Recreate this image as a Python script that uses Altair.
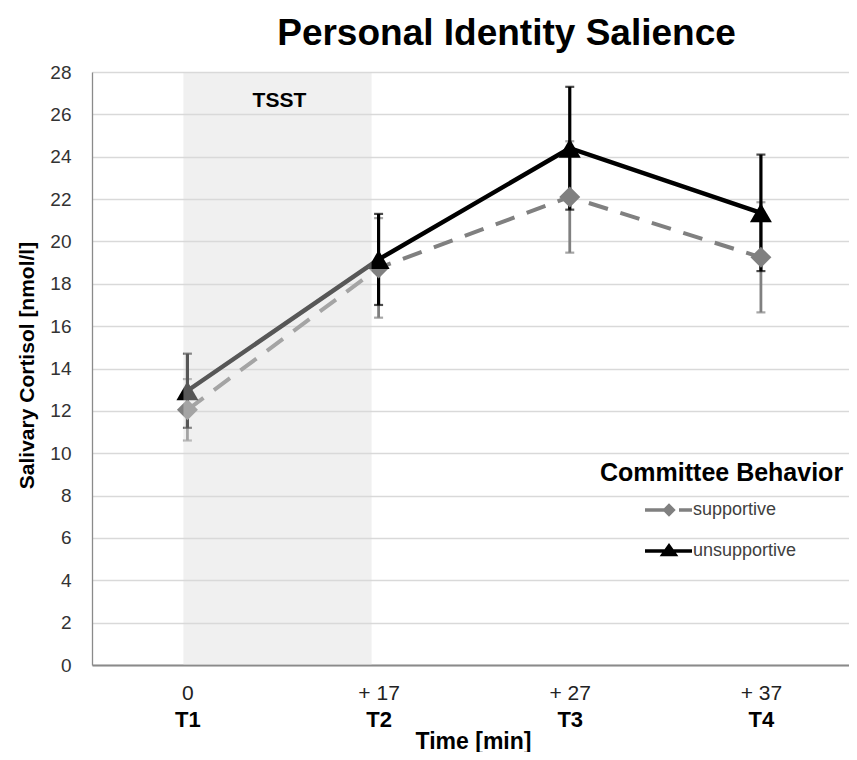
import json
import altair as alt
import pandas as pd

# ---------------- data ----------------
times = ["T1", "T2", "T3", "T4"]
minutes = ["0", "+ 17", "+ 27", "+ 37"]
series = ["supportive", "unsupportive"]
supportive_mean = [12.05, 18.75, 22.1, 19.25]
supportive_err = [1.45, 2.35, 2.63, 2.6]
unsupportive_mean = [12.95, 19.15, 24.4, 21.35]
unsupportive_err = [1.75, 2.15, 2.9, 2.75]
y_ticks = list(range(0, 29, 2))
shade_start = ["T1"]
shade_end = ["T2"]
shade_label = ["TSST"]
shade_label_y = [26.65]

df = pd.DataFrame({
    "time": times * 2,
    "series": [series[0]] * 4 + [series[1]] * 4,
    "mean": supportive_mean + unsupportive_mean,
    "err": supportive_err + unsupportive_err,
})
shade_df = pd.DataFrame({"start": shade_start, "end": shade_end, "lo": [0], "hi": [28]})
label_df = pd.DataFrame({"time": shade_start, "y": shade_label_y, "label": shade_label})

FONT = "Liberation Sans"
GRAY = "#808080"

xscale = alt.Scale(type="point", domain=times, padding=0.48, align=0.52)
yscale = alt.Scale(domain=[0, 28], nice=False, zero=True)

yaxis = alt.Axis(
    values=y_ticks, ticks=False, labelFontSize=19, labelPadding=21, labelColor="#333333",
    domainColor="#8a8a8a", domainWidth=1.3, gridColor="#d9d9d9", gridWidth=1.3,
    title="Salivary Cortisol [nmol/l]", titleFontSize=21, titleFontWeight="bold",
    titleColor="#000000", titleX=-65, titleY=293, titleAngle=270,
    titleBaseline="middle", titleAlign="center",
)

label_expr = "%s[indexof(%s, datum.value)]" % (json.dumps(minutes), json.dumps(times))
xaxis_min = alt.Axis(
    orient="bottom", labelExpr=label_expr, ticks=False, grid=False, labelAngle=0,
    labelFontSize=21, labelPadding=17, labelColor="#222222",
    domainColor="#8a8a8a", domainWidth=2, title=None,
)
xaxis_t = alt.Axis(
    orient="bottom", ticks=False, grid=False, domain=False, labelAngle=0,
    labelFontSize=22, labelFontWeight="bold", labelPadding=44, labelColor="#000000",
    title="Time [min]", titleFontSize=23, titleFontWeight="bold", titleColor="#000000",
    titleX=381, titleY=76, titleBaseline="middle", titleAlign="center",
)

base = alt.Chart(df).transform_calculate(
    lo="datum.mean - datum.err", hi="datum.mean + datum.err"
)
supp = base.transform_filter(alt.datum.series == series[0])
unsupp = base.transform_filter(alt.datum.series == series[1])

X = alt.X("time:N", scale=xscale, axis=None)
Y = alt.Y("mean:Q", scale=yscale, axis=yaxis)

def errbars(src, color, width):
    bar = src.mark_rule(color=color, strokeWidth=width).encode(
        x=X, y=alt.Y("lo:Q", scale=yscale, axis=yaxis), y2="hi:Q")
    cap_lo = src.mark_tick(color=color, size=9, thickness=2.2).encode(
        x=X, y=alt.Y("lo:Q", scale=yscale, axis=yaxis))
    cap_hi = src.mark_tick(color=color, size=9, thickness=2.2).encode(
        x=X, y=alt.Y("hi:Q", scale=yscale, axis=yaxis))
    return [bar, cap_lo, cap_hi]

supp_line = supp.mark_line(color=GRAY, strokeWidth=4, strokeDash=[20, 13]).encode(x=X, y=Y)
unsupp_line = unsupp.mark_line(color="#000000", strokeWidth=4.5).encode(
    x=alt.X("time:N", scale=xscale, axis=xaxis_min), y=Y)

supp_pts = supp.mark_point(shape="diamond", filled=True, size=441, color=GRAY, opacity=1).encode(x=X, y=Y)
unsupp_pts = unsupp.mark_point(shape="triangle-up", filled=True, size=484, color="#000000", opacity=1).encode(x=X, y=Y)

shade = alt.Chart(shade_df).mark_rect(color="#d9d9d9", opacity=0.4, xOffset=-4, x2Offset=-7).encode(
    x=alt.X("start:N", scale=xscale, axis=xaxis_t), x2="end:N",
    y=alt.Y("lo:Q", scale=yscale, axis=yaxis), y2="hi:Q",
)

tsst = alt.Chart(label_df).mark_text(
    dx=92, fontSize=21, fontWeight="bold", font=FONT, color="#000000", align="center", baseline="middle"
).encode(x=X, y=alt.Y("y:Q", scale=yscale, axis=yaxis), text="label:N")

# legend symbols: line + marker drawn as strokes, in symbol units (r = sqrt(size)/2 = 10px)
legend_paths = [
    "M3.3,0L5.2,0M6.7,0L8,0M5.7,-0.42L6.12,0L5.7,0.42L5.28,0ZM5.28,0L6.12,0M5.7,-0.42L5.7,0.42",
    "M3.3,0L8,0M5.7,-0.5L6.3,0.35L5.1,0.35ZM5.7,-0.3L5.7,0.35",
]
leg_def = alt.Legend(
    orient="none", legendX=508, legendY=389, title="Committee Behavior",
    titleFontSize=25, titleFontWeight="bold", titleColor="#000000", titleFont=FONT,
    titleLimit=600, titlePadding=12, labelFontSize=18, labelColor="#404040", labelFont=FONT,
    labelOffset=69, labelLimit=300, rowPadding=17, padding=0, symbolSize=400,
    symbolStrokeWidth=3.5,
)
legend_layer = base.mark_point(opacity=0, filled=False).encode(
    x=X, y=Y,
    color=alt.Color("series:N", scale=alt.Scale(domain=series, range=[GRAY, "#000000"]), legend=leg_def),
    shape=alt.Shape("series:N", scale=alt.Scale(domain=series, range=legend_paths), legend=leg_def),
)

layers = (errbars(supp, GRAY, 2.8) + errbars(unsupp, "#000000", 3.2)
          + [supp_line, unsupp_line, supp_pts, unsupp_pts, shade, tsst, legend_layer])

chart = alt.layer(*layers).resolve_axis(x="independent").properties(
    width=757, height=593,
    autosize=alt.AutoSizeParams(type="none"),
    padding={"left": 84, "top": 64, "right": 0, "bottom": 87},
    title=alt.TitleParams(
        "Personal Identity Salience", fontSize=37, fontWeight="bold", font=FONT,
        color="#000000", anchor="middle", frame="group", dx=36, offset=-19, baseline="alphabetic",
    ),
).configure(font=FONT).configure_view(stroke=None)

chart.save("out.html", embed_options={"renderer": "svg", "actions": False})
